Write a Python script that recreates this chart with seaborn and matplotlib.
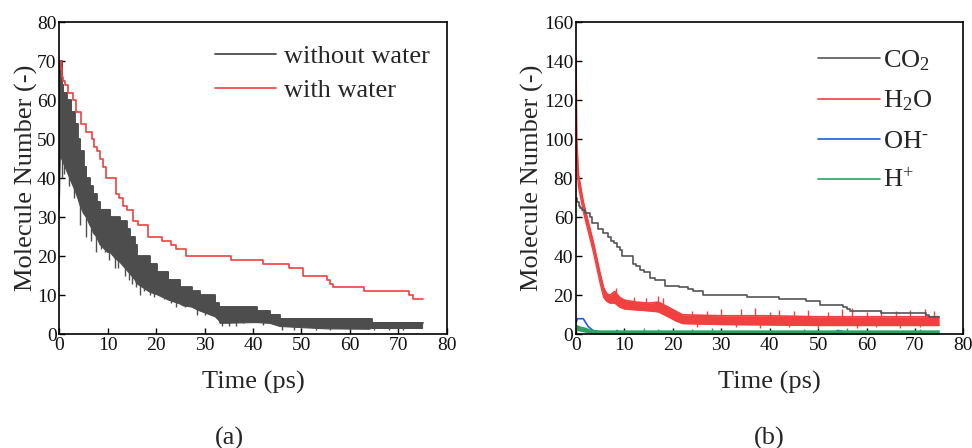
import numpy as np
import pandas as pd
import matplotlib
matplotlib.use("Agg")
import matplotlib.pyplot as plt
import seaborn as sns

# ---------------- data ----------------
# (a) CO2 without water: dense oscillating series -> upper (step) / lower envelopes
t_nw = [0, 0.2, 0.5, 0.83, 1.5, 2.5, 3.2, 3.8, 4.3, 5.0, 5.6, 6.3, 6.8, 7.0, 7.7, 8.4,
        10.0, 10.5, 11.5, 12.5, 13.9, 14.6, 15.6, 16.0, 18.7, 20.1, 22.2, 22.5, 24.9,
        25.6, 27.3, 29.0, 32.2, 33.0, 33.2, 40.0, 40.8, 43.5, 45.6, 55.0, 64.0, 64.5, 75.0]
up_nw = [70, 70, 64, 62, 60, 57, 54, 50, 47, 43, 40, 38, 38, 36, 34, 32,
         32, 30, 30, 29, 27, 25, 23, 20, 18, 16, 16, 14, 12,
         12, 11, 10, 8, 7, 7, 7, 6, 5, 4, 4, 4, 3, 3]
lo_nw = [32, 45, 45, 44, 42, 39, 37, 35, 33, 31, 30, 28, 27, 26, 25, 23,
         21, 21, 19.5, 18.5, 16.5, 15.5, 14, 13, 10.8, 10.2, 9, 8.8, 7.8,
         7.3, 7, 6, 4.5, 3.5, 2.8, 3, 3, 2.8, 2, 1.4, 1.3, 1.5, 1.5]
spike_t_nw = [0.6, 1.0, 2.0, 3.1, 4.3, 5.5, 6.6, 7.6, 8.6, 9.5, 10.3, 11.4, 12.2, 13.6,
              14.3, 15.0, 15.8, 16.6, 17.4, 18.7, 19.6, 21.6, 23.0, 24.0, 26.0, 28.5,
              30.0, 31.5, 33.6, 35.0, 36.5, 38.0, 42.0, 46.0, 48.5, 50.0, 53.0, 56.0,
              60.0, 65.0, 68.0, 71.0]
spike_v_nw = [40, 41, 38, 35, 28, 25, 24, 21, 22, 21, 19, 17, 17, 15,
              14, 13, 12, 10, 11, 10, 9.5, 9, 8, 7, 7, 5,
              5, 5, 2, 2, 2, 3, 2.5, 1, 1, 1.5, 1, 1,
              1, 1, 1, 1]

# (a) CO2 with water (step) - identical to CO2 in (b)
t_ww = [0, 0.3, 0.6, 0.8, 1.2, 1.9, 2.8, 3.4, 4.5, 5.5, 6.7, 7.2, 7.8, 8.4, 9.1, 9.6,
        11.8, 12.4, 13.2, 14.0, 15.3, 16.3, 18.4, 21.3, 23.1, 24.1, 26.2, 35.4, 42.0,
        47.5, 50.3, 55.2, 55.9, 56.6, 62.9, 72.3, 73.0, 75.0]
v_ww = [70, 68, 66, 65, 64, 62, 60, 57, 54, 52, 50, 48, 47, 45, 43, 40,
        36, 35, 33, 32, 29, 28, 25, 24, 23, 22, 20, 19, 18,
        17, 15, 14, 13, 12, 11, 10, 9, 9]

# (b) H2O: noisy band -> upper / lower envelopes
t_h2o = [0, 0.15, 0.5, 0.8, 1.5, 2.2, 2.9, 3.6, 4.3, 5.0, 5.7, 6.3, 7.0, 8.0, 9.0, 10.0,
         12.5, 15.0, 17.0, 19.0, 20.5, 22.0, 30.0, 40.0, 50.0, 60.0, 75.0]
up_h2o = [142, 100, 82, 78, 68, 61, 54, 47, 39, 31, 24, 21, 20, 22, 19, 17.5,
          16.5, 16, 16.5, 14, 12, 10, 9.5, 9.5, 9, 9, 9]
lo_h2o = [95, 88, 76, 72, 63, 56, 49, 42, 34, 26, 19, 17, 16, 16, 14, 13,
          12.5, 12, 11.5, 9, 7, 5.5, 5, 4.8, 4.5, 4.5, 4.5]
spike_t_h2o = [8.3, 12.0, 14.5, 17.0, 18.0, 24.0, 27.0, 30.0, 34.0, 37.0, 40.0, 42.0,
               45.0, 48.0, 52.0, 55.0, 57.0, 60.0, 63.0, 66.0, 69.0, 72.0, 74.0]
spike_v_h2o = [23.5, 19, 18.5, 19.5, 18.5, 12, 12, 13, 13, 13.5, 11.5, 12.5,
               12, 12.5, 11.5, 13, 13.5, 11.5, 12.5, 12, 12.5, 13, 12]
spike_lo_t_h2o = [25.0, 33.0, 38.0, 44.0, 50.0, 58.0, 62.0, 67.0, 71.0]
spike_lo_v_h2o = [3.5, 3.5, 3.0, 3.5, 3.0, 3.0, 3.5, 3.0, 3.5]

# (b) OH-
t_oh = [0, 0.3, 1.5, 2.0, 2.5, 3.0, 3.5, 4.0, 5.0, 8.0, 8.5, 9.0, 14.0, 16.0, 18.0,
        53.0, 54.0, 55.0, 56.0, 57.0, 75.0]
v_oh = [6, 8, 8, 6, 4, 3, 2, 1.5, 0.5, 0.5, 2, 0.3, 0.3, 0, 0.3,
        0.3, 2, 1.5, 0.5, 0.3, 0.3]

# (b) H+ : thin noisy band near the floor
t_h = [0, 1.0, 2.0, 3.0, 5.0, 10.0, 20.0, 75.0]
up_h = [4.5, 3.5, 3.0, 2.0, 1.6, 1.6, 1.6, 1.6]
lo_h = [2.0, 1.5, 1.0, 0.3, 0.0, 0.0, 0.0, 0.0]
spike_t_h = [14.0, 17.0, 24.0, 28.0, 47.0, 56.0, 71.0]
spike_v_h = [3.0, 2.8, 2.6, 3.0, 2.8, 3.0, 2.7]

labels_a = ["without water", "with water"]
labels_b = [r"CO$_{\mathrm{2}}$", r"H$_{\mathrm{2}}$O", r"OH$^{\text{-}}$", r"H$^{\mathrm{+}}$"]
xticks = [0, 10, 20, 30, 40, 50, 60, 70, 80]
yticks_a = [0, 10, 20, 30, 40, 50, 60, 70, 80]
yticks_b = [0, 20, 40, 60, 80, 100, 120, 140, 160]

# ---------------- style ----------------
sns.set_theme(style="ticks")
plt.rcParams["font.family"] = ["Liberation Serif", "DejaVu Serif"]
plt.rcParams["mathtext.fontset"] = "custom"
plt.rcParams["mathtext.rm"] = "Liberation Serif"
plt.rcParams["mathtext.it"] = "Liberation Serif:italic"
plt.rcParams["mathtext.bf"] = "Liberation Serif:bold"

C_DARK = "#4d4d4d"
C_CO2 = "#555555"
C_RED = "#f04040"
C_BLUE = "#1f5fd6"
C_GREEN = "#2ea060"


def band_polygon(t_arr, up_arr, lo_arr):
    """Upper edge as a staircase, lower edge as a straight polyline."""
    t_arr = np.asarray(t_arr, float)
    up_arr = np.asarray(up_arr, float)
    lo_arr = np.asarray(lo_arr, float)
    xs = np.repeat(t_arr, 2)[1:]
    ys = np.repeat(up_arr, 2)[:-1]
    px = np.concatenate([xs, t_arr[::-1]])
    py = np.concatenate([ys, lo_arr[::-1]])
    return px, py


fig = plt.figure(figsize=(9.72, 4.48), dpi=100)
axA = fig.add_axes([0.0610, 0.2538, 0.3986, 0.6964])
axB = fig.add_axes([0.5926, 0.2538, 0.3985, 0.6964])

# ---- panel (a)
px, py = band_polygon(t_nw, up_nw, lo_nw)
axA.fill(px, py, color=C_DARK, lw=0.8, ec=C_DARK)
axA.vlines(spike_t_nw, spike_v_nw, np.interp(spike_t_nw, t_nw, lo_nw) + 1,
           color=C_DARK, lw=1.0)
sns.lineplot(x=t_nw, y=up_nw, ax=axA, color=C_DARK, lw=1.3, drawstyle="steps-post",
             label=labels_a[0])
sns.lineplot(x=t_ww, y=v_ww, ax=axA, color=C_RED, lw=1.2, drawstyle="steps-post",
             label=labels_a[1])

# ---- panel (b)
sns.lineplot(x=t_oh, y=v_oh, ax=axB, color=C_BLUE, lw=1.2, label=labels_b[2], zorder=2)
axB.fill_between(t_h, lo_h, up_h, color=C_GREEN, lw=0, zorder=2.1)
axB.vlines(spike_t_h, 0, spike_v_h, color=C_GREEN, lw=1.0, zorder=2.1)
sns.lineplot(x=t_h, y=up_h, ax=axB, color=C_GREEN, lw=1.2, label=labels_b[3], zorder=2.2)
axB.fill_between(t_h2o, lo_h2o, up_h2o, color=C_RED, lw=0, zorder=2.3)
axB.vlines(spike_t_h2o, np.interp(spike_t_h2o, t_h2o, up_h2o) - 1, spike_v_h2o,
           color=C_RED, lw=1.0, zorder=2.3)
axB.vlines(spike_lo_t_h2o, spike_lo_v_h2o, np.interp(spike_lo_t_h2o, t_h2o, lo_h2o) + 1,
           color=C_RED, lw=1.0, zorder=2.3)
sns.lineplot(x=t_h2o, y=up_h2o, ax=axB, color=C_RED, lw=1.2, label=labels_b[1], zorder=2.4)
sns.lineplot(x=t_h2o, y=lo_h2o, ax=axB, color=C_RED, lw=1.0, zorder=2.4)
sns.lineplot(x=t_ww, y=v_ww, ax=axB, color=C_CO2, lw=1.2, drawstyle="steps-post",
             label=labels_b[0], zorder=2.5)

for ax, yt, ylim, lp in [(axA, yticks_a, (0, 80), -0.5), (axB, yticks_b, (0, 160), -0.5)]:
    ax.set_xlim(0, 80)
    ax.set_ylim(*ylim)
    ax.set_xticks(xticks)
    ax.set_yticks(yt)
    ax.tick_params(direction="in", length=4, width=1, labelsize=14, pad=2,
                   colors="black", labelcolor="#111111")
    for s in ax.spines.values():
        s.set_visible(True)
        s.set_linewidth(1.2)
        s.set_color("black")
    ax.set_xlabel("Time (ps)", fontsize=19, labelpad=12)
    ax.set_ylabel("Molecule Number (-)", fontsize=19, labelpad=lp)

# legends
hA, lA = axA.get_legend_handles_labels()
axA.legend(hA, lA, loc="center left", bbox_to_anchor=(0.403, 0.836), frameon=False,
           fontsize=19, handlelength=2.3, handletextpad=0.28, labelspacing=0.38,
           borderpad=0, borderaxespad=0)

hB, lB = axB.get_legend_handles_labels()
order = [lB.index(l) for l in labels_b]
axB.legend([hB[i] for i in order], [lB[i] for i in order], loc="center left",
           bbox_to_anchor=(0.625, 0.685), frameon=False, fontsize=19, handlelength=2.35,
           handletextpad=0.12, labelspacing=0.6, borderpad=0, borderaxespad=0)

fig.text(0.2356, 0.022, "(a)", ha="center", va="center", fontsize=19)
fig.text(0.791, 0.022, "(b)", ha="center", va="center", fontsize=19)

fig.savefig("out.png", dpi=100)
